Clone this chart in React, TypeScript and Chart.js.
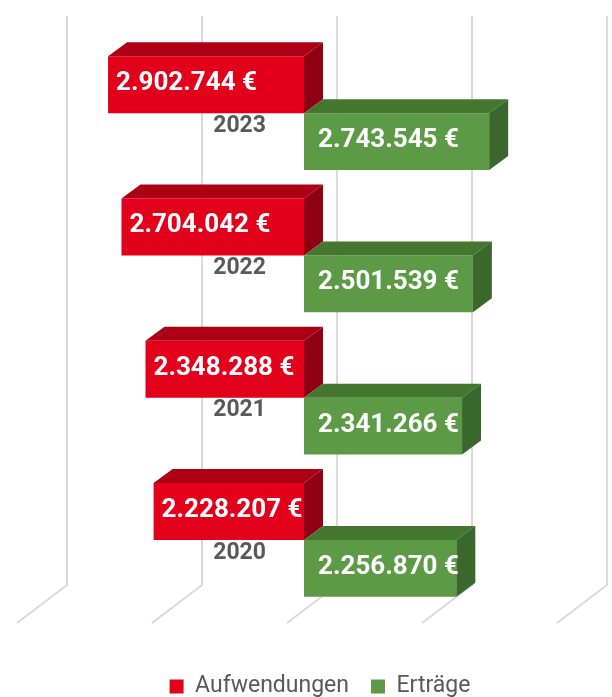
import React, { useEffect, useRef } from "react";
import { Chart, registerables } from "chart.js";

Chart.register(...registerables);

// ---- data ----
const years: string[] = ["2023", "2022", "2021", "2020"];
const seriesNames: string[] = ["Aufwendungen", "Erträge"];
const aufwendungen: number[] = [2902744, 2704042, 2348288, 2228207];
const ertraege: number[] = [2743545, 2501539, 2341266, 2256870];
const axisMin = -4000000;
const axisMax = 4000000;
const axisStep = 2000000;

// ---- styling ----
const RED = { front: "#E2001A", top: "#AD0016", side: "#8F0012" };
const GREEN = { front: "#5C9A46", top: "#44762F", side: "#3A672B" };
const FACE = [RED, GREEN];
const BAR_DX = 19;
const BAR_DY = 14;
const WALL_DX = 33;
const WALL_DY = 26;
const FLOOR_DX = -17;
const FLOOR_DY = 12;
const FONT = "Roboto, 'Noto Sans', sans-serif";

const fmt = (v: number) =>
  String(Math.abs(Math.round(v))).replace(/\B(?=(\d{3})+(?!\d))/g, ".") + " €";

const threeD = {
  id: "threeD",
  beforeDatasetsDraw(chart: any) {
    const { ctx, chartArea, scales } = chart;
    const x = scales.x;
    ctx.save();
    ctx.strokeStyle = "#d9d9d9";
    ctx.lineWidth = 2;
    ctx.lineJoin = "round";
    x.ticks.forEach((t: any) => {
      const px = x.getPixelForValue(t.value);
      ctx.beginPath();
      ctx.moveTo(px + WALL_DX, chartArea.top - WALL_DY);
      ctx.lineTo(px + WALL_DX, chartArea.bottom - WALL_DY);
      ctx.lineTo(px + FLOOR_DX, chartArea.bottom + FLOOR_DY);
      ctx.stroke();
    });
    ctx.restore();
  },
  afterDatasetsDraw(chart: any) {
    const { ctx, scales } = chart;
    const xs = scales.x;
    const ys = scales.y;
    ctx.save();
    chart.data.datasets.forEach((ds: any, di: number) => {
      const meta = chart.getDatasetMeta(di);
      const face = FACE[di];
      meta.data.forEach((bar: any) => {
        const { x, y, base, height } = bar.getProps(["x", "y", "base", "height"], true);
        const left = Math.min(x, base);
        const right = Math.max(x, base);
        const top = y - height / 2;
        const bottom = y + height / 2;
        // top face
        ctx.fillStyle = face.top;
        ctx.beginPath();
        ctx.moveTo(left, top);
        ctx.lineTo(right, top);
        ctx.lineTo(right + BAR_DX, top - BAR_DY);
        ctx.lineTo(left + BAR_DX, top - BAR_DY);
        ctx.closePath();
        ctx.fill();
        // right side face
        ctx.fillStyle = face.side;
        ctx.beginPath();
        ctx.moveTo(right, top);
        ctx.lineTo(right, bottom);
        ctx.lineTo(right + BAR_DX, bottom - BAR_DY);
        ctx.lineTo(right + BAR_DX, top - BAR_DY);
        ctx.closePath();
        ctx.fill();
      });
    });
    // value labels
    ctx.font = `bold 26px ${FONT}`;
    ctx.fillStyle = "#ffffff";
    ctx.textBaseline = "middle";
    ctx.textAlign = "left";
    chart.data.datasets.forEach((ds: any, di: number) => {
      const meta = chart.getDatasetMeta(di);
      meta.data.forEach((bar: any, i: number) => {
        const { x, y, base } = bar.getProps(["x", "y", "base"], true);
        const left = Math.min(x, base);
        const tx = di === 0 ? left + 8 : base + 14;
        ctx.fillText(fmt(ds.data[i]), tx, y - 1);
      });
    });
    // category labels
    ctx.font = `bold 23px ${FONT}`;
    ctx.fillStyle = "#595959";
    ctx.textAlign = "right";
    const zero = xs.getPixelForValue(0);
    chart.data.labels.forEach((lab: string, i: number) => {
      const cy = ys.getPixelForValue(i);
      ctx.fillText(lab, zero - 38, cy + 13);
    });
    ctx.restore();
  },
};

export default function App() {
  const ref = useRef<HTMLCanvasElement | null>(null);
  useEffect(() => {
    if (!ref.current) return;
    const chart = new Chart(ref.current, {
      type: "bar",
      data: {
        labels: years,
        datasets: [
          {
            label: seriesNames[0],
            data: aufwendungen.map((v) => -v),
            backgroundColor: RED.front,
            borderWidth: 0,
            categoryPercentage: 0.8,
            barPercentage: 1.0,
          },
          {
            label: seriesNames[1],
            data: ertraege,
            backgroundColor: GREEN.front,
            borderWidth: 0,
            categoryPercentage: 0.8,
            barPercentage: 1.0,
          },
        ],
      },
      options: {
        indexAxis: "y",
        animation: false,
        responsive: true,
        maintainAspectRatio: false,
        events: [],
        layout: { padding: { top: 42, left: 34, right: 6, bottom: 0 } },
        scales: {
          x: {
            min: axisMin,
            max: axisMax,
            display: true,
            grid: { display: false },
            border: { display: false },
            ticks: { display: false, stepSize: axisStep },
            afterFit: (scale: any) => {
              scale.height = 42;
            },
          },
          y: {
            type: "category",
            position: "right",
            display: true,
            grid: { display: false },
            border: { display: false },
            ticks: { display: false },
            afterFit: (scale: any) => {
              scale.width = 32;
            },
          },
        },
        plugins: {
          tooltip: { enabled: false },
          legend: {
            position: "bottom",
            labels: {
              boxWidth: 14,
              boxHeight: 14,
              padding: 22,
              color: "#595959",
              font: { family: FONT, size: 23 },
            },
          },
        },
      },
      plugins: [threeD],
    } as any);
    return () => chart.destroy();
  }, []);
  return (
    <div style={{ position: "fixed", left: 0, top: 0, width: 612, height: 708 }}>
      <canvas ref={ref} />
    </div>
  );
}
